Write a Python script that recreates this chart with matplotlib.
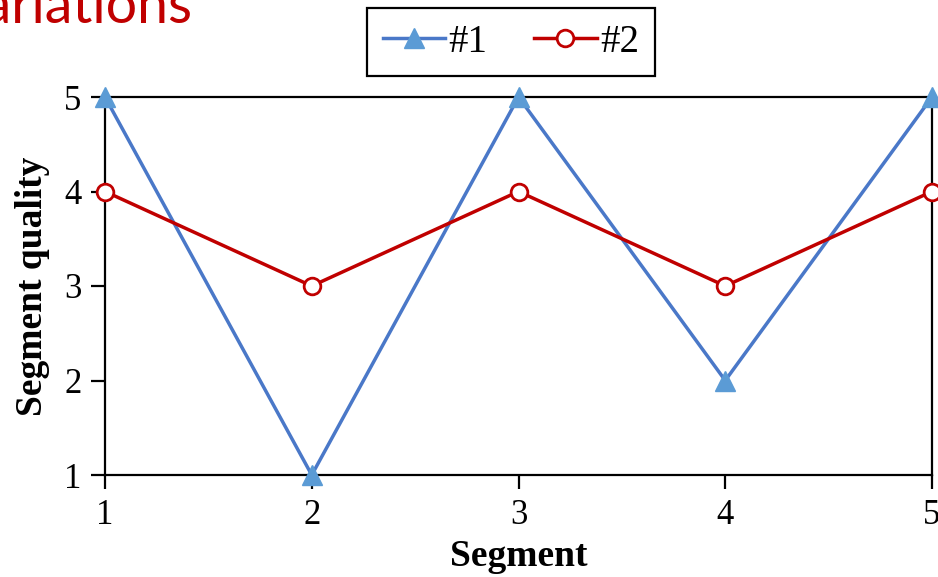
import matplotlib.pyplot as plt
import matplotlib

matplotlib.rcParams['font.family'] = 'Liberation Serif'
matplotlib.rcParams['font.size'] = 25

segments = [1, 2, 3, 4, 5]
quality_1 = [5, 1, 5, 2, 5]
quality_2 = [4, 3, 4, 3, 4]

fig = plt.figure(figsize=(9.38, 5.77), dpi=100)
ax = fig.add_axes([105 / 938, 1 - 475 / 577, (932 - 105) / 938, (475 - 97) / 577])

ax.plot(segments, quality_1, color='#4a78c8', lw=2.5, marker='^', ms=14,
        mfc='#5b9bd5', mec='#5b9bd5', label='#1', clip_on=False, zorder=3)
ax.plot(segments, quality_2, color='#c00000', lw=2.5, marker='o', ms=12,
        mfc='white', mec='#c00000', mew=2, label='#2', clip_on=False, zorder=3)

ax.set_xlim(1, 5)
ax.set_ylim(1, 5)
ax.set_xticks(segments)
ax.set_yticks([1, 2, 3, 4, 5])
ax.tick_params(direction='out', length=10, width=1.6, pad=7, labelsize=25)
for s in ax.spines.values():
    s.set_linewidth(1.6)

ax.set_xlabel('Segment', fontweight='bold', fontsize=27, labelpad=5)
ax.set_ylabel('Segment quality', fontweight='bold', fontsize=27, labelpad=10)

leg = fig.legend(loc='upper center', bbox_to_anchor=(511 / 938, 1 - 8 / 577), ncol=2,
                 fancybox=False, edgecolor='black', framealpha=1, fontsize=28,
                 handlelength=1.6, columnspacing=1.2, handletextpad=0.1,
                 borderpad=0.4, borderaxespad=0)
leg.get_frame().set_linewidth(1.6)

fig.text(193 / 938, 1 - 23 / 577, 'Variations', color='#c00000', fontsize=40,
         family='Lato', va='baseline', ha='right')

plt.savefig('out.png', dpi=100)
